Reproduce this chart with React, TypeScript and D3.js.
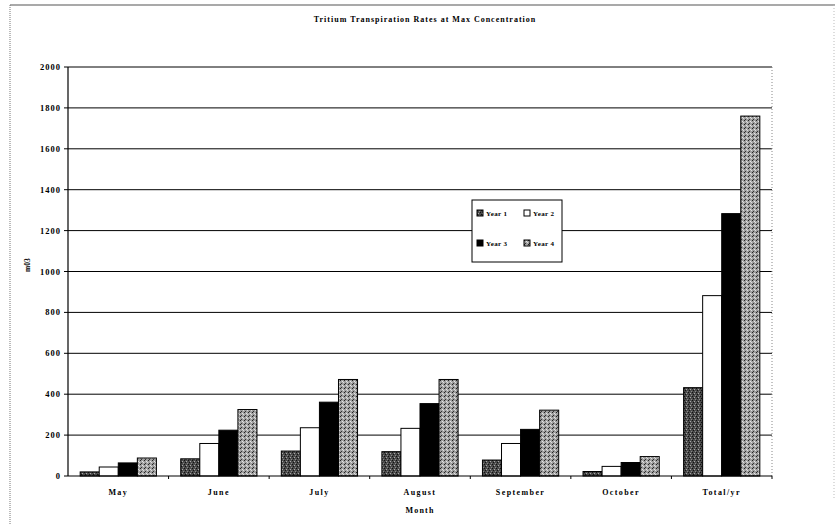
import React from "react";
import * as d3 from "d3";

const categories = ["May", "June", "July", "August", "September", "October", "Total/yr"];
const seriesNames = ["Year 1", "Year 2", "Year 3", "Year 4"];
const year1 = [20, 84, 122, 119, 78, 22, 432];
const year2 = [44, 159, 236, 233, 159, 47, 882];
const year3 = [64, 224, 361, 354, 228, 66, 1283];
const year4 = [88, 325, 472, 472, 322, 95, 1760];
const yTicks = [0, 200, 400, 600, 800, 1000, 1200, 1400, 1600, 1800, 2000];

const seriesData = [year1, year2, year3, year4];
const fills = ["url(#pat1)", "#ffffff", "#000000", "url(#pat4)"];

const W = 838, H = 525;
const left = 68, right = 772, top = 67, bottom = 476;
const font = "'Liberation Serif', 'Times New Roman', serif";

export default function App() {
  const x = d3.scaleBand<string>().domain(categories).range([left, right]).paddingInner(0.242).paddingOuter(0.121);
  const xs = d3.scaleBand<string>().domain(seriesNames).range([0, x.bandwidth()]);
  const y = d3.scaleLinear().domain([0, 2000]).range([bottom, top]);
  const step = x.step();

  return (
    <svg width={W} height={H} style={{ position: "absolute", left: 0, top: 0, background: "#fff" }}>
      <defs>
        <pattern id="pat1" width="4" height="4" patternUnits="userSpaceOnUse">
          <rect width="4" height="4" fill="#4a4a4a" />
          <rect x="0" y="0" width="1" height="1" fill="#111" />
          <rect x="2" y="1" width="1" height="1" fill="#aaa" />
          <rect x="1" y="2" width="1" height="1" fill="#111" />
          <rect x="3" y="3" width="1" height="1" fill="#888" />
        </pattern>
        <pattern id="pat4" width="4" height="4" patternUnits="userSpaceOnUse">
          <rect width="4" height="4" fill="#a0a0a0" />
          <rect x="0" y="0" width="1" height="1" fill="#222" />
          <rect x="2" y="1" width="1" height="1" fill="#e6e6e6" />
          <rect x="1" y="3" width="1" height="1" fill="#333" />
          <rect x="3" y="2" width="1" height="1" fill="#ddd" />
        </pattern>
      </defs>
      {/* outer frame */}
      <line x1={10} x2={835} y1={5} y2={5} stroke="#555" strokeWidth={1.2} />
      <line x1={10} x2={10} y1={5} y2={525} stroke="#777" strokeWidth={1} strokeDasharray="1,1" />
      <line x1={834} x2={834} y1={5} y2={500} stroke="#bbb" strokeWidth={1} strokeDasharray="1,2" />

      <text x={425} y={22} textAnchor="middle" fontFamily={font} fontSize={8} fontWeight="bold" letterSpacing={1}>
        Tritium Transpiration Rates at Max Concentration
      </text>

      {/* gridlines */}
      {yTicks.filter((t) => t > 0).map((t) => (
        <line key={"g" + t} x1={left} x2={right} y1={y(t)} y2={y(t)} stroke="#000" strokeWidth={1} />
      ))}
      {/* right dotted edge */}
      <line x1={right} x2={right} y1={top} y2={bottom} stroke="#888" strokeDasharray="1,2" />

      {/* bars */}
      {seriesData.map((vals, si) =>
        vals.map((v, ci) => (
          <rect
            key={si + "-" + ci}
            x={(x(categories[ci]) as number) + (xs(seriesNames[si]) as number)}
            y={y(v)}
            width={xs.bandwidth()}
            height={bottom - y(v)}
            fill={fills[si]}
            stroke="#000"
            strokeWidth={1}
          />
        ))
      )}

      {/* axes */}
      <line x1={left} x2={left} y1={top} y2={bottom} stroke="#000" strokeWidth={1.2} />
      <line x1={left} x2={right} y1={bottom} y2={bottom} stroke="#000" strokeWidth={1.2} />
      {yTicks.map((t) => (
        <g key={"t" + t}>
          <line x1={left - 4} x2={left} y1={y(t)} y2={y(t)} stroke="#000" />
          <text x={61} y={y(t) + 3} textAnchor="end" fontFamily={font} fontSize={8.5} fontWeight="bold" letterSpacing={1}>
            {t}
          </text>
        </g>
      ))}
      {categories.map((c, i) => (
        <line key={"xt" + i} x1={left + step * (i + 1)} x2={left + step * (i + 1)} y1={bottom} y2={bottom + 3} stroke="#000" />
      ))}
      {categories.map((c) => (
        <text key={"xl" + c} x={(x(c) as number) + x.bandwidth() / 2} y={495} textAnchor="middle" fontFamily={font} fontSize={8} fontWeight="bold" letterSpacing={1.4}>
          {c}
        </text>
      ))}
      <text x={420} y={513} textAnchor="middle" fontFamily={font} fontSize={8} fontWeight="bold" letterSpacing={1.2}>
        Month
      </text>
      <text transform="translate(30,265) rotate(-90)" textAnchor="middle" fontFamily={font} fontSize={7.5} fontWeight="bold">
        m03
      </text>

      {/* legend */}
      <rect x={472} y={200} width={90} height={62} fill="#fff" stroke="#000" strokeWidth={1} />
      {seriesNames.map((s, i) => {
        const col = i % 2;
        const row = Math.floor(i / 2);
        const lx = 477 + col * 47;
        const ly = 215 + row * 30;
        return (
          <g key={"lg" + s}>
            <rect x={lx} y={ly - 5} width={6} height={6} fill={fills[i]} stroke="#000" strokeWidth={1} />
            <text x={lx + 9} y={ly + 1} fontFamily={font} fontSize={7} fontWeight="bold" letterSpacing={0.4}>
              {s}
            </text>
          </g>
        );
      })}
    </svg>
  );
}
